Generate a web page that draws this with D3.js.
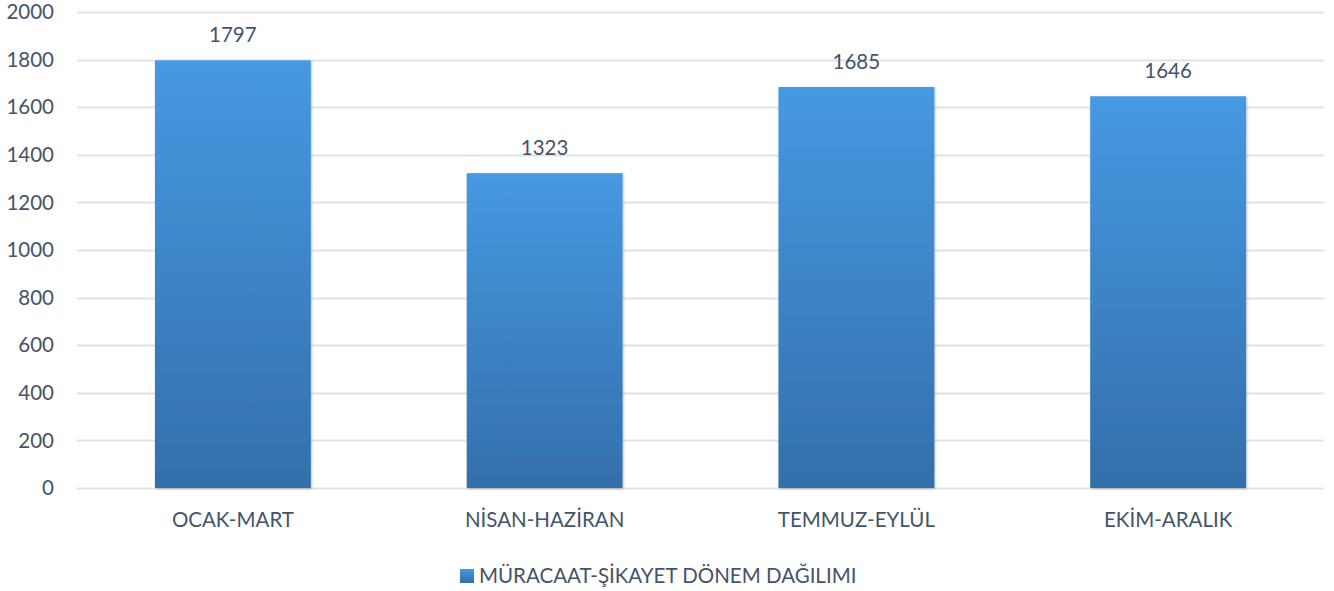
<!DOCTYPE html>
<html>
<head>
<meta charset="utf-8">
<script src="https://cdn.jsdelivr.net/npm/d3@7"></script>
<style>
  body { margin: 0; background: #fff; }
  text { font-family: Lato, "Open Sans", sans-serif; fill: #44546a; }
</style>
</head>
<body>
<script>
// Chart data
var categories = ["OCAK-MART", "NİSAN-HAZİRAN", "TEMMUZ-EYLÜL", "EKİM-ARALIK"];
var values = [1797, 1323, 1685, 1646];
var yTicks = [0, 200, 400, 600, 800, 1000, 1200, 1400, 1600, 1800, 2000];
var seriesName = "MÜRACAAT-ŞİKAYET DÖNEM DAĞILIMI";

var W = 1334, H = 591;
var margin = {top: 12, right: 10, bottom: 103, left: 77},
    width = W - margin.left - margin.right,
    height = H - margin.top - margin.bottom;
var fontSize = "20.5px";

var svg = d3.select("body").append("svg")
    .attr("width", W)
    .attr("height", H);

// Gradient + shadow
var defs = svg.append("defs");
var grad = defs.append("linearGradient")
    .attr("id", "barGrad")
    .attr("x1", 0).attr("y1", 0).attr("x2", 0).attr("y2", 1);
grad.append("stop").attr("offset", "0%").attr("stop-color", "#4699e2");
grad.append("stop").attr("offset", "100%").attr("stop-color", "#336fab");

var shadow = defs.append("filter").attr("id", "shadow")
    .attr("x", "-5%").attr("y", "-5%").attr("width", "110%").attr("height", "110%");
shadow.append("feDropShadow")
    .attr("dx", 1).attr("dy", 1).attr("stdDeviation", 1.2)
    .attr("flood-color", "#000").attr("flood-opacity", 0.25);

var g = svg.append("g")
    .attr("transform", "translate(" + margin.left + "," + margin.top + ")");

// Scales
var x = d3.scaleBand().domain(categories).range([0, width]).paddingInner(0.5).paddingOuter(0.25);
var y = d3.scaleLinear().domain([0, 2000]).range([height, 0]);

// Gridlines
g.selectAll("line.grid")
    .data(yTicks)
    .enter().append("line")
    .attr("class", "grid")
    .attr("x1", 0).attr("x2", width)
    .attr("y1", function(d) { return Math.round(y(d)) + 0.5; })
    .attr("y2", function(d) { return Math.round(y(d)) + 0.5; })
    .style("stroke", "#dfe3e8")
    .style("stroke-width", 2);

// Y labels
g.selectAll("text.ytick")
    .data(yTicks)
    .enter().append("text")
    .attr("class", "ytick")
    .attr("x", -23)
    .attr("y", function(d) { return y(d); })
    .attr("dy", "0.35em")
    .style("text-anchor", "end")
    .style("font-size", fontSize)
    .text(function(d) { return d; });

// Bars
g.selectAll("rect.bar")
    .data(values)
    .enter().append("rect")
    .attr("class", "bar")
    .attr("x", function(d, i) { return x(categories[i]); })
    .attr("y", function(d) { return y(d); })
    .attr("width", x.bandwidth())
    .attr("height", function(d) { return height - y(d); })
    .style("fill", "url(#barGrad)")
    .attr("filter", "url(#shadow)");

// Value labels
g.selectAll("text.val")
    .data(values)
    .enter().append("text")
    .attr("class", "val")
    .attr("x", function(d, i) { return x(categories[i]) + x.bandwidth() / 2; })
    .attr("y", function(d) { return y(d) - 18; })
    .style("text-anchor", "middle")
    .style("font-size", fontSize)
    .text(function(d) { return d; });

// X labels
g.selectAll("text.xtick")
    .data(categories)
    .enter().append("text")
    .attr("class", "xtick")
    .attr("x", function(d) { return x(d) + x.bandwidth() / 2; })
    .attr("y", height + 39)
    .style("text-anchor", "middle")
    .style("font-size", fontSize)
    .text(function(d) { return d; });

// Legend
var legend = svg.append("g").attr("transform", "translate(460,576)");
legend.append("rect")
    .attr("x", 0).attr("y", -7)
    .attr("width", 14).attr("height", 14)
    .style("fill", "url(#barGrad)");
legend.append("text")
    .attr("x", 19).attr("y", 0)
    .attr("dy", "0.35em")
    .style("font-size", fontSize)
    .text(seriesName);
</script>
</body>
</html>
